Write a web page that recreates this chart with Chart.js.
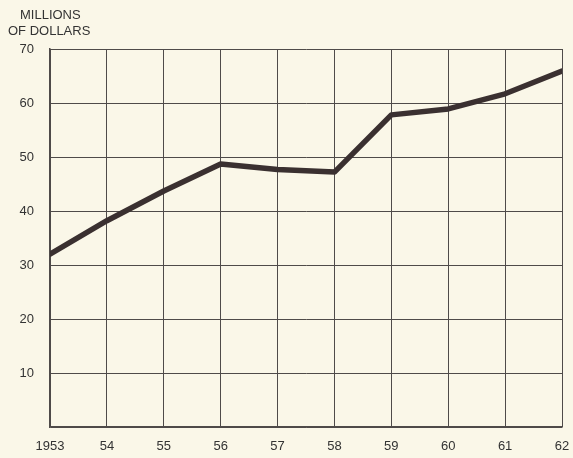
<!DOCTYPE html>
<html>
<head>
<meta charset="utf-8">
<script src="https://cdn.jsdelivr.net/npm/chart.js@4"></script>
<style>
  html, body { margin: 0; padding: 0; background: #faf7e8; }
  #wrap { width: 573px; height: 458px; position: relative; }
</style>
</head>
<body>
<div id="wrap"><canvas id="chart"></canvas></div>
<script>
// values
const years = [1953, 1954, 1955, 1956, 1957, 1958, 1959, 1960, 1961, 1962]
const millions = [32.0, 38.2, 43.7, 48.7, 47.7, 47.2, 57.8, 58.9, 61.7, 65.9]
const yTicks = [10, 20, 30, 40, 50, 60, 70]
const titleLines = ["MILLIONS", "OF DOLLARS"]

const ink = "#3a3030"
const gridCol = "#4f4b49"
const fnt = "'Liberation Sans', Arial, sans-serif"

let pts = years.map((y, i) => ({ x: y, y: millions[i] }))

// cream paper and the axis title
const paper = {
    id: "paper",
    beforeDraw(chart) {
        let c = chart.ctx
        c.save()
        c.fillStyle = "#faf7e8"
        c.fillRect(0, 0, chart.width, chart.height)
        c.restore()
    },
    afterDraw(chart) {
        let c = chart.ctx
        c.save()
        c.fillStyle = "#333"
        c.font = "13px " + fnt
        c.textBaseline = "middle"
        c.textAlign = "left"
        c.fillText(titleLines[0], 20, 15)
        c.fillText(titleLines[1], 8, 31)
        c.restore()
    }
}

new Chart(document.getElementById("chart").getContext("2d"), {
    type: "line",
    data: {
        datasets: [{
            data: pts,
            borderColor: ink,
            borderWidth: 5.5,
            borderJoinStyle: "round",
            borderCapStyle: "round",
            pointRadius: 0,
            tension: 0,
            fill: false
        }]
    },
    options: {
        responsive: true,
        maintainAspectRatio: false,
        animation: false,
        layout: { padding: { top: 49, right: 11, left: 0, bottom: 0 } },
        plugins: { legend: { display: false }, tooltip: { enabled: false } },
        scales: {
            x: {
                type: "linear",
                min: years[0],
                max: years[years.length - 1],
                afterBuildTicks(ax) { ax.ticks = years.map(v => ({ value: v })) },
                afterFit(ax) { ax.height = 31; ax.paddingLeft = 0; ax.paddingRight = 0 },
                grid: { color: gridCol, lineWidth: 1, drawTicks: false },
                border: { color: gridCol, width: 1.5 },
                ticks: {
                    color: "#333",
                    font: { family: fnt, size: 13 },
                    padding: 12,
                    maxRotation: 0,
                    callback: v => v === years[0] ? String(v) : String(v).slice(2)
                }
            },
            y: {
                min: 0,
                max: 70,
                afterBuildTicks(ax) { ax.ticks = [0].concat(yTicks).map(v => ({ value: v })) },
                afterFit(ax) { ax.width = 50; ax.paddingTop = 0; ax.paddingBottom = 0 },
                grid: { color: gridCol, lineWidth: 1, drawTicks: false },
                border: { color: gridCol, width: 1.5 },
                ticks: {
                    color: "#333",
                    font: { family: fnt, size: 13 },
                    padding: 16,
                    callback: v => v === 0 ? "" : String(v)
                }
            }
        }
    },
    plugins: [paper]
})
</script>
</body>
</html>
